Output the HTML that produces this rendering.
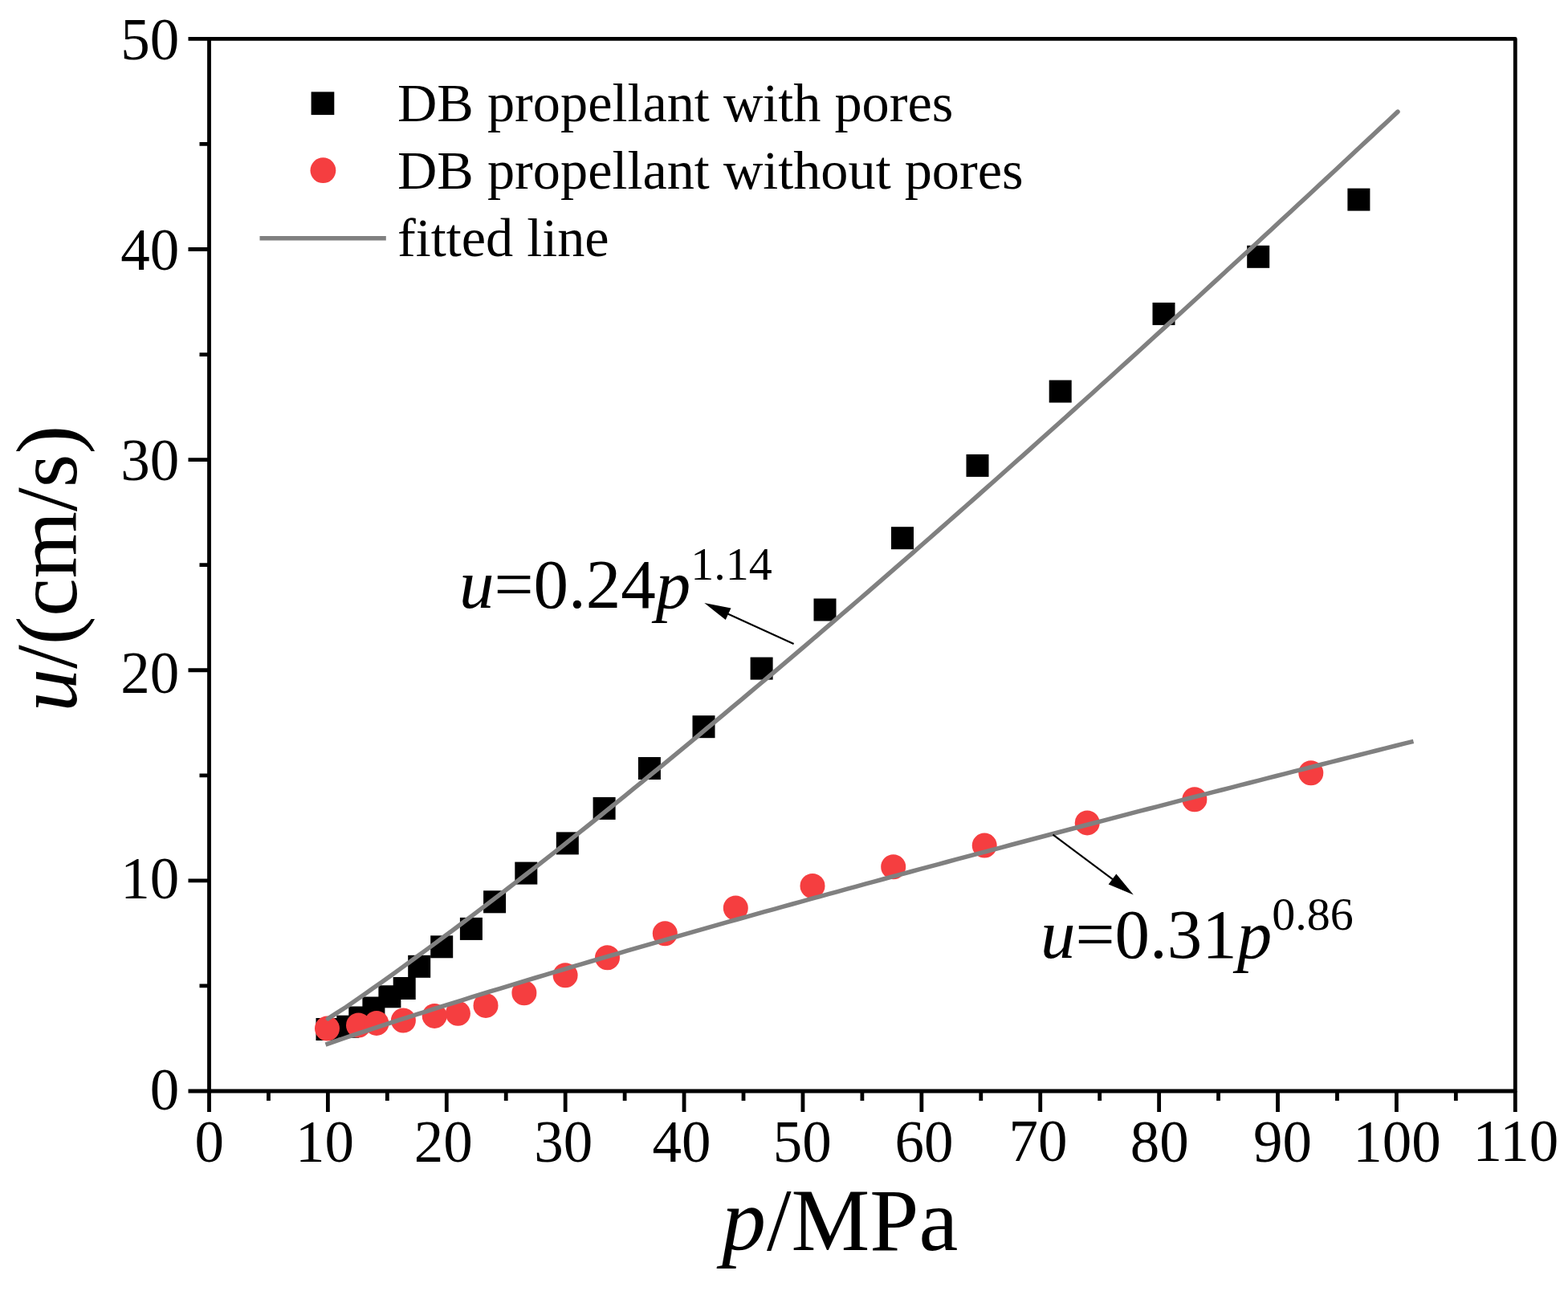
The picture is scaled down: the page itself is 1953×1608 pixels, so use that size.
<!DOCTYPE html><html><head><meta charset="utf-8"><style>html,body{margin:0;padding:0;background:#fff;}svg{display:block;}text{font-family:"Liberation Serif","Times New Roman",serif;fill:#000;}</style></head><body>
<svg width="1953" height="1608" viewBox="0 0 1953 1608">
<rect width="1953" height="1608" fill="#fff"/>
<g fill="#000">
<rect x="393.50" y="1268.00" width="28.0" height="28.0"/>
<rect x="419.30" y="1264.70" width="28.0" height="28.0"/>
<rect x="434.30" y="1253.50" width="28.0" height="28.0"/>
<rect x="451.40" y="1241.50" width="28.0" height="28.0"/>
<rect x="471.40" y="1227.30" width="28.0" height="28.0"/>
<rect x="489.70" y="1217.00" width="28.0" height="28.0"/>
<rect x="508.20" y="1189.80" width="28.0" height="28.0"/>
<rect x="536.20" y="1165.30" width="28.0" height="28.0"/>
<rect x="572.90" y="1142.90" width="28.0" height="28.0"/>
<rect x="602.10" y="1109.30" width="28.0" height="28.0"/>
<rect x="641.30" y="1073.60" width="28.0" height="28.0"/>
<rect x="692.80" y="1036.40" width="28.0" height="28.0"/>
<rect x="738.60" y="992.90" width="28.0" height="28.0"/>
<rect x="794.90" y="943.00" width="28.0" height="28.0"/>
<rect x="862.50" y="891.20" width="28.0" height="28.0"/>
<rect x="934.60" y="818.60" width="28.0" height="28.0"/>
<rect x="1013.50" y="745.50" width="28.0" height="28.0"/>
<rect x="1110.00" y="656.20" width="28.0" height="28.0"/>
<rect x="1203.50" y="565.90" width="28.0" height="28.0"/>
<rect x="1306.70" y="473.50" width="28.0" height="28.0"/>
<rect x="1435.50" y="376.90" width="28.0" height="28.0"/>
<rect x="1553.20" y="305.80" width="28.0" height="28.0"/>
<rect x="1678.40" y="234.60" width="28.0" height="28.0"/>
</g>
<g fill="#F53E40">
<circle cx="407.5" cy="1281" r="15.5"/>
<circle cx="446.5" cy="1277" r="15.5"/>
<circle cx="469" cy="1274.4" r="15.5"/>
<circle cx="502.4" cy="1271" r="15.5"/>
<circle cx="541.2" cy="1265.4" r="15.5"/>
<circle cx="570.4" cy="1262.3" r="15.5"/>
<circle cx="605" cy="1252.4" r="15.5"/>
<circle cx="652.9" cy="1236.8" r="15.5"/>
<circle cx="704.1" cy="1214.7" r="15.5"/>
<circle cx="756.5" cy="1192.8" r="15.5"/>
<circle cx="828.3" cy="1162.8" r="15.5"/>
<circle cx="916.3" cy="1131" r="15.5"/>
<circle cx="1012" cy="1103.5" r="15.5"/>
<circle cx="1112.7" cy="1079.7" r="15.5"/>
<circle cx="1226.2" cy="1053.1" r="15.5"/>
<circle cx="1354.2" cy="1024.9" r="15.5"/>
<circle cx="1487.9" cy="995.8" r="15.5"/>
<circle cx="1632.8" cy="962.7" r="15.5"/>
</g>
<path d="M408.39,1268.84 L419.59,1261.69 L430.79,1254.46 L441.99,1246.84 L453.18,1239.01 L464.38,1231.12 L475.58,1223.17 L486.78,1215.17 L497.98,1207.11 L509.18,1198.99 L520.37,1190.83 L531.57,1182.62 L542.77,1174.36 L553.97,1166.05 L565.17,1157.70 L576.37,1149.31 L587.57,1140.88 L598.76,1132.41 L609.96,1123.90 L621.16,1115.36 L632.36,1106.77 L643.56,1098.15 L654.76,1089.50 L665.95,1080.81 L677.15,1072.09 L688.35,1063.34 L699.55,1054.55 L710.75,1045.65 L721.95,1036.71 L733.14,1027.75 L744.34,1018.75 L755.54,1009.72 L766.74,1000.67 L777.94,991.59 L789.14,982.49 L800.33,973.35 L811.53,964.19 L822.73,955.01 L833.93,945.80 L845.13,936.57 L856.33,927.31 L867.53,918.03 L878.72,908.73 L889.92,899.40 L901.12,890.05 L912.32,880.69 L923.52,871.31 L934.72,861.90 L945.91,852.48 L957.11,843.03 L968.31,833.56 L979.51,824.08 L990.71,814.57 L1001.91,805.04 L1013.10,795.49 L1024.30,785.93 L1035.50,776.34 L1046.70,766.74 L1057.90,757.11 L1069.10,747.47 L1080.29,737.81 L1091.49,728.14 L1102.69,718.43 L1113.89,708.67 L1125.09,698.90 L1136.29,689.11 L1147.49,679.30 L1158.68,669.47 L1169.88,659.63 L1181.08,649.77 L1192.28,639.89 L1203.48,630.00 L1214.68,620.10 L1225.87,610.17 L1237.07,600.23 L1248.27,590.28 L1259.47,580.31 L1270.67,570.33 L1281.87,560.33 L1293.06,550.31 L1304.26,540.28 L1315.46,530.24 L1326.66,520.18 L1337.86,510.11 L1349.06,500.02 L1360.25,489.92 L1371.45,479.81 L1382.65,469.68 L1393.85,459.54 L1405.05,449.38 L1416.25,439.21 L1427.44,429.03 L1438.64,418.83 L1449.84,408.63 L1461.04,398.40 L1472.24,388.17 L1483.44,377.92 L1494.64,367.66 L1505.83,357.39 L1517.03,347.12 L1528.23,336.83 L1539.43,326.53 L1550.63,316.22 L1561.83,305.90 L1573.02,295.56 L1584.22,285.21 L1595.42,274.85 L1606.62,264.48 L1617.82,254.10 L1629.02,243.70 L1640.21,233.29 L1651.41,222.88 L1662.61,212.45 L1673.81,202.01 L1685.01,191.55 L1696.21,181.09 L1707.40,170.62 L1718.60,160.13 L1729.80,149.64 L1741.00,139.13" fill="none" stroke="#808080" stroke-width="5.5" stroke-linejoin="round" stroke-linecap="round"/>
<path d="M405.50,1301.04 L416.89,1297.13 L428.27,1293.26 L439.66,1289.43 L451.05,1285.63 L462.43,1281.86 L473.82,1278.12 L485.21,1274.40 L496.59,1270.71 L507.98,1267.05 L519.37,1263.41 L530.75,1259.79 L542.14,1256.19 L553.53,1252.61 L564.91,1249.05 L576.30,1245.51 L587.68,1241.98 L599.07,1238.48 L610.46,1234.99 L621.84,1231.51 L633.23,1228.05 L644.62,1224.60 L656.00,1221.17 L667.39,1217.75 L678.78,1214.34 L690.16,1210.95 L701.55,1207.57 L712.94,1204.20 L724.32,1200.84 L735.71,1197.50 L747.10,1194.16 L758.48,1190.84 L769.87,1187.52 L781.26,1184.22 L792.64,1180.92 L804.03,1177.64 L815.42,1174.36 L826.80,1171.10 L838.19,1167.84 L849.58,1164.59 L860.96,1161.35 L872.35,1158.12 L883.74,1154.89 L895.12,1151.68 L906.51,1148.47 L917.89,1145.27 L929.28,1142.08 L940.67,1138.89 L952.05,1135.72 L963.44,1132.55 L974.83,1129.38 L986.21,1126.23 L997.60,1123.08 L1008.99,1119.93 L1020.37,1116.80 L1031.76,1113.67 L1043.15,1110.54 L1054.53,1107.43 L1065.92,1104.31 L1077.31,1101.21 L1088.69,1098.11 L1100.08,1095.01 L1111.47,1091.93 L1122.85,1088.84 L1134.24,1085.77 L1145.63,1082.70 L1157.01,1079.63 L1168.40,1076.57 L1179.79,1073.51 L1191.17,1070.46 L1202.56,1067.42 L1213.95,1064.38 L1225.33,1061.34 L1236.72,1058.31 L1248.11,1055.29 L1259.49,1052.27 L1270.88,1049.25 L1282.26,1046.24 L1293.65,1043.23 L1305.04,1040.23 L1316.42,1037.23 L1327.81,1034.24 L1339.20,1031.25 L1350.58,1028.26 L1361.97,1025.28 L1373.36,1022.31 L1384.74,1019.34 L1396.13,1016.37 L1407.52,1013.40 L1418.90,1010.44 L1430.29,1007.49 L1441.68,1004.54 L1453.06,1001.59 L1464.45,998.64 L1475.84,995.70 L1487.22,992.77 L1498.61,989.83 L1510.00,986.90 L1521.38,983.98 L1532.77,981.06 L1544.16,978.14 L1555.54,975.22 L1566.93,972.31 L1578.32,969.40 L1589.70,966.50 L1601.09,963.60 L1612.47,960.70 L1623.86,957.80 L1635.25,954.91 L1646.63,952.03 L1658.02,949.14 L1669.41,946.26 L1680.79,943.38 L1692.18,940.51 L1703.57,937.63 L1714.95,934.77 L1726.34,931.90 L1737.73,929.04 L1749.11,926.18 L1760.50,923.32" fill="none" stroke="#808080" stroke-width="5.5" stroke-linejoin="round"/>
<path d="M260.5,48.4 L1887.3,48.4 L1887.3,1359.0 L260.5,1359.0 Z" fill="none" stroke="#000" stroke-width="4.8" stroke-linejoin="round"/>
<path d="M260.50,1359.0 V1385.0 M334.45,1359.0 V1371.0 M408.39,1359.0 V1385.0 M482.34,1359.0 V1371.0 M556.28,1359.0 V1385.0 M630.23,1359.0 V1371.0 M704.17,1359.0 V1385.0 M778.12,1359.0 V1371.0 M852.06,1359.0 V1385.0 M926.01,1359.0 V1371.0 M999.95,1359.0 V1385.0 M1073.90,1359.0 V1371.0 M1147.85,1359.0 V1385.0 M1221.79,1359.0 V1371.0 M1295.74,1359.0 V1385.0 M1369.68,1359.0 V1371.0 M1443.63,1359.0 V1385.0 M1517.57,1359.0 V1371.0 M1591.52,1359.0 V1385.0 M1665.46,1359.0 V1371.0 M1739.41,1359.0 V1385.0 M1813.35,1359.0 V1371.0 M1887.30,1359.0 V1385.0 M260.5,1359.00 H234.5 M260.5,1227.94 H248.5 M260.5,1096.88 H234.5 M260.5,965.82 H248.5 M260.5,834.76 H234.5 M260.5,703.70 H248.5 M260.5,572.64 H234.5 M260.5,441.58 H248.5 M260.5,310.52 H234.5 M260.5,179.46 H248.5 M260.5,48.40 H234.5" stroke="#000" stroke-width="4.8" fill="none"/>
<text x="260.80" y="1446.60" font-size="73" text-anchor="middle">0</text>
<text x="404.59" y="1446.60" font-size="73" text-anchor="middle">10</text>
<text x="552.28" y="1446.60" font-size="73" text-anchor="middle">20</text>
<text x="701.87" y="1446.60" font-size="73" text-anchor="middle">30</text>
<text x="849.06" y="1446.60" font-size="73" text-anchor="middle">40</text>
<text x="999.35" y="1446.60" font-size="73" text-anchor="middle">50</text>
<text x="1151.05" y="1446.60" font-size="73" text-anchor="middle">60</text>
<text x="1292.94" y="1446.10" font-size="73" text-anchor="middle">70</text>
<text x="1444.33" y="1446.60" font-size="73" text-anchor="middle">80</text>
<text x="1597.52" y="1446.60" font-size="73" text-anchor="middle">90</text>
<text x="1740.11" y="1446.60" font-size="73" text-anchor="middle">100</text>
<text x="1887.80" y="1446.10" font-size="73" text-anchor="middle">110</text>
<text x="223.20" y="1381.80" font-size="73" text-anchor="end">0</text>
<text x="223.20" y="1119.28" font-size="73" text-anchor="end">10</text>
<text x="223.20" y="862.66" font-size="73" text-anchor="end">20</text>
<text x="223.20" y="597.74" font-size="73" text-anchor="end">30</text>
<text x="223.20" y="335.52" font-size="73" text-anchor="end">40</text>
<text x="223.20" y="73.60" font-size="73" text-anchor="end">50</text>
<text x="899" y="1557" font-size="110"><tspan font-style="italic">p</tspan><tspan dx="1">/MPa</tspan></text>
<text transform="translate(95,886.5) rotate(-90)" font-size="107"><tspan font-style="italic">u</tspan>/(cm/s)</text>
<rect x="387.6" y="114.4" width="28.7" height="28.7" fill="#000"/>
<circle cx="402.4" cy="212.2" r="15.9" fill="#F53E40"/>
<path d="M323.5,296.7 H480.8" stroke="#808080" stroke-width="5.5"/>
<text x="495" y="151.4" font-size="68.3">DB propellant with pores</text>
<text x="495" y="235.4" font-size="68.3">DB propellant without pores</text>
<text x="495" y="319" font-size="68.3">fitted line</text>
<text x="572" y="757" font-size="87"><tspan font-style="italic">u</tspan>=0.24<tspan font-style="italic">p</tspan><tspan font-size="58" dy="-35.5">1.14</tspan></text>
<text x="1296" y="1192.5" font-size="87"><tspan font-style="italic">u</tspan>=0.31<tspan font-style="italic">p</tspan><tspan font-size="58" dy="-34.5">0.86</tspan></text>
<path d="M988.60,802.00 L905.31,763.91" stroke="#000" stroke-width="2.2" fill="none"/><path d="M877.30,751.10 L910.48,757.42 L903.78,772.06 Z" fill="#000"/>
<path d="M1311.50,1039.70 L1387.12,1096.17" stroke="#000" stroke-width="2.2" fill="none"/><path d="M1411.80,1114.60 L1380.70,1101.42 L1390.34,1088.52 Z" fill="#000"/>
</svg></body></html>
